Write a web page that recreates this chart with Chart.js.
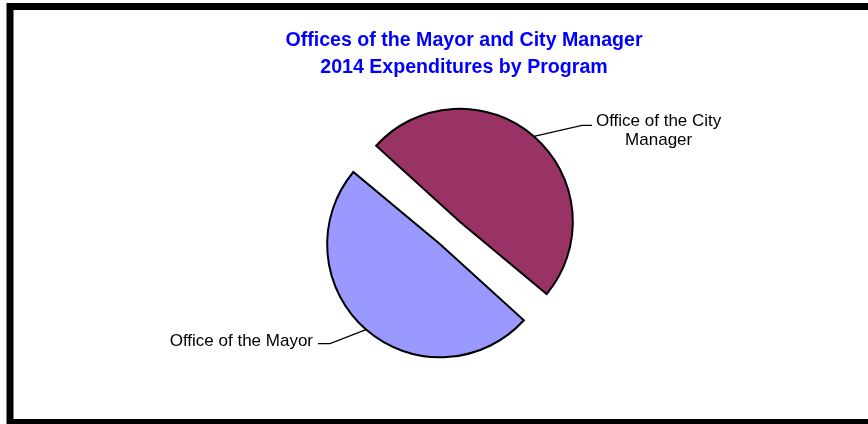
<!DOCTYPE html>
<html>
<head>
<meta charset="utf-8">
<title>2014 Expenditures by Program</title>
<script src="https://cdn.jsdelivr.net/npm/chart.js@4"></script>
<style>
  html, body { margin: 0; padding: 0; background: #fff; }
  #wrap { width: 868px; height: 424px; position: relative; }
</style>
</head>
<body>
<div id="wrap"><canvas id="gastosPrograma"></canvas></div>
<script>
// Programas y su parte del gasto 2014
const programas = ['Office of the Mayor', 'Office of the City Manager'];
const etiquetas = [['Office of the Mayor'], ['Office of the City', 'Manager']];
const gastos = [50, 50];
const colores = ['#9999FF', '#993366'];
const titulo = ['Offices of the Mayor and City Manager', '2014 Expenditures by Program'];

// Codo de cada línea guía (desde el borde de la porción)
const codos = [
    { dx: -36, dy: 14, tramo: -12 },
    { dx: 48, dy: -11, tramo: 10 }
];

const fuenteEtiqueta = '17px "Liberation Sans", Arial, sans-serif';
const fuenteTitulo = 'bold 19.6px "Liberation Sans", Arial, sans-serif';

// ArcElement.draw traslada la porción offset/4 y además agranda el radio
function geometria(arco) {
    const off = (arco.options.offset || 0) / 4;
    const circ = arco.endAngle - arco.startAngle;
    const fix = 1 - Math.sin(Math.min(Math.PI, circ || 0));
    return { traslado: off, radio: arco.outerRadius + off * fix };
}

// Marco negro, título y etiquetas con líneas guía
const decoracion = {
    id: 'decoracion',
    beforeDraw(chart) {
        const ctx = chart.ctx;
        ctx.save();
        ctx.fillStyle = '#fff';
        ctx.fillRect(0, 0, chart.width, chart.height);
        ctx.restore();
    },
    afterDraw(chart) {
        const ctx = chart.ctx;
        ctx.save();

        // marco
        ctx.strokeStyle = '#000';
        ctx.lineWidth = 7;
        ctx.strokeRect(10, 6.5, 862, 416);

        // título
        ctx.fillStyle = '#0000FF';
        ctx.font = fuenteTitulo;
        ctx.textAlign = 'center';
        ctx.textBaseline = 'alphabetic';
        titulo.forEach((linea, i) => ctx.fillText(linea, 464, 46 + i * 26.6));

        // etiquetas
        const meta = chart.getDatasetMeta(0);
        ctx.font = fuenteEtiqueta;
        ctx.fillStyle = '#000';
        ctx.strokeStyle = '#000';
        ctx.lineWidth = 1.2;
        meta.data.forEach((arco, i) => {
            const medio = (arco.startAngle + arco.endAngle) / 2;
            const g = geometria(arco);
            const cx = arco.x + Math.cos(medio) * g.traslado;
            const cy = arco.y + Math.sin(medio) * g.traslado;
            const x0 = cx + Math.cos(medio) * g.radio;
            const y0 = cy + Math.sin(medio) * g.radio;
            const c = codos[i];
            const x1 = x0 + c.dx, y1 = y0 + c.dy;
            const x2 = x1 + c.tramo;

            ctx.beginPath();
            ctx.moveTo(x0, y0);
            ctx.lineTo(x1, y1);
            ctx.lineTo(x2, y1);
            ctx.stroke();

            const lineas = etiquetas[i];
            if (c.tramo > 0) {
                const ancho = Math.max(...lineas.map(l => ctx.measureText(l).width));
                ctx.textAlign = 'center';
                lineas.forEach((l, j) => ctx.fillText(l, x2 + 4 + ancho / 2, y1 + 1 + j * 19));
            } else {
                ctx.textAlign = 'right';
                lineas.forEach((l, j) => ctx.fillText(l, x2 - 5, y1 + 2 + j * 19));
            }
        });
        ctx.restore();
    }
};

const ctx = document.getElementById('gastosPrograma').getContext('2d');

new Chart(ctx, {
    type: 'pie',
    data: {
        labels: programas,
        datasets: [{
            data: gastos,
            backgroundColor: colores,
            borderColor: '#000',
            borderWidth: 2,
            borderJoinStyle: 'miter',
            offset: 60,
            hoverOffset: 0
        }]
    },
    options: {
        responsive: true,
        maintainAspectRatio: false,
        animation: false,
        rotation: 131,
        radius: 98,
        layout: {
            padding: { left: 32, right: 0, top: 42, bottom: 0 }
        },
        plugins: {
            legend: { display: false },
            title: { display: false },
            tooltip: { enabled: false }
        }
    },
    plugins: [decoracion]
});
</script>
</body>
</html>
